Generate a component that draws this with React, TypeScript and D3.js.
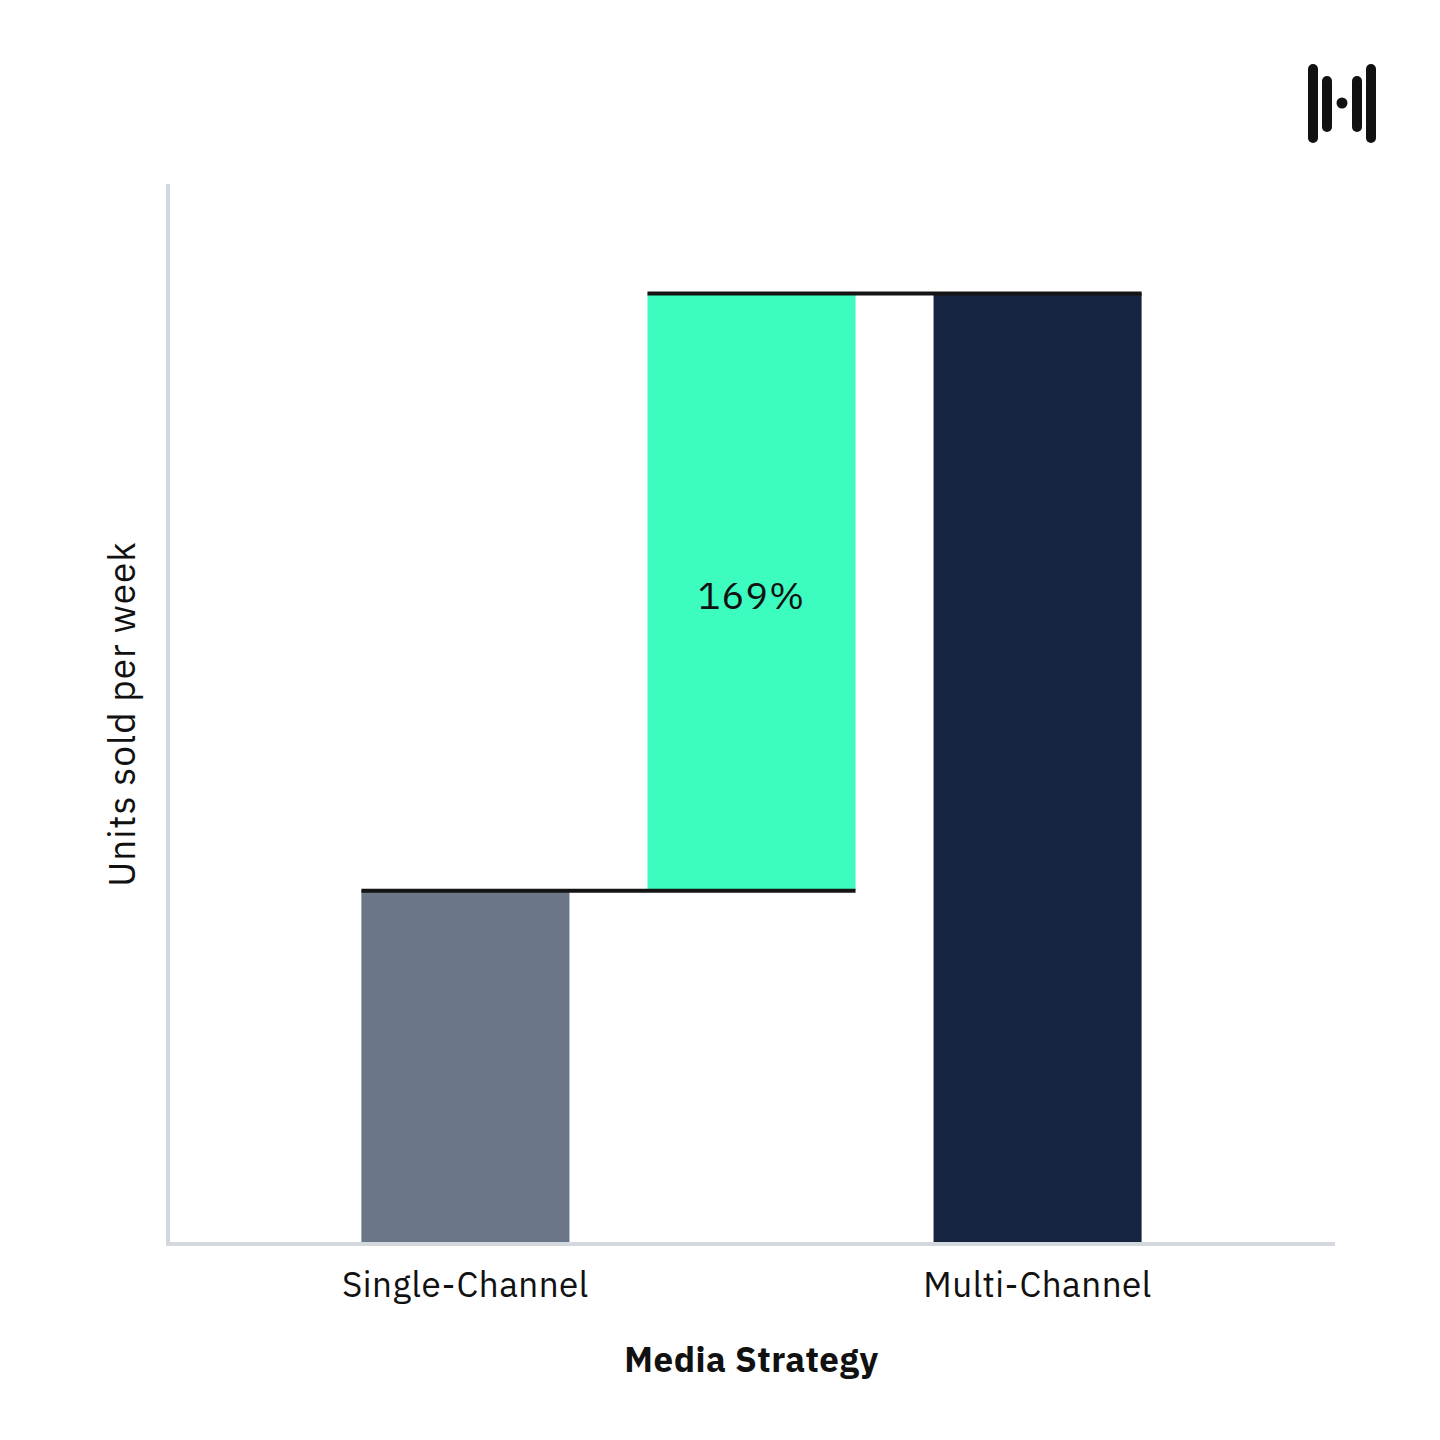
import React, { useEffect } from "react";
import * as d3 from "d3";

const categories = ["Single-Channel", "Uplift", "Multi-Channel"];
const tickLabels = ["Single-Channel", "", "Multi-Channel"];
const singleValue = [100];
const multiValue = [269];
const upliftLabel = ["169%"];
const yDomain = [0, 300];

const W = 1440;
const H = 1440;
const left = 168;
const right = 1335;
const top = 184;
const bottom = 1244;
const FONT = "'IBM Plex Sans', 'Noto Sans', sans-serif";

export default function App() {
  useEffect(() => {
    document.body.style.margin = "0";
  }, []);

  const x = d3
    .scaleBand<string>()
    .domain(categories)
    .range([left, right])
    .paddingInner(0.2727)
    .paddingOuter(0.676);
  const y = d3.scaleLinear().domain(yDomain).range([bottom, top]);
  const bw = x.bandwidth();

  const s = singleValue[0];
  const m = multiValue[0];

  const bars = [
    { cat: categories[0], y0: 0, y1: s, color: "#6b7789" },
    { cat: categories[1], y0: s, y1: m, color: "#3dfcc0" },
    { cat: categories[2], y0: 0, y1: m, color: "#172440" },
  ];

  const connectors = [
    { from: categories[0], to: categories[1], v: s },
    { from: categories[1], to: categories[2], v: m },
  ];

  return (
    <svg width={W} height={H} style={{ display: "block", background: "#fff" }}>
      {/* logo */}
      <g fill="#111">
        <rect x={1308} y={64} width={10} height={79} rx={5} />
        <rect x={1322} y={76} width={10} height={56} rx={5} />
        <circle cx={1342} cy={103} r={5.5} />
        <rect x={1352} y={76} width={10} height={56} rx={5} />
        <rect x={1366} y={64} width={10} height={79} rx={5} />
      </g>

      {/* bars */}
      {bars.map((b) => (
        <rect
          key={b.cat}
          x={x(b.cat)}
          y={y(b.y1)}
          width={bw}
          height={y(b.y0) - y(b.y1)}
          fill={b.color}
        />
      ))}

      {/* connectors */}
      {connectors.map((c, i) => (
        <line
          key={i}
          x1={x(c.from)}
          x2={(x(c.to) as number) + bw}
          y1={y(c.v)}
          y2={y(c.v)}
          stroke="#141414"
          strokeWidth={4}
        />
      ))}

      {/* uplift label */}
      <text
        x={(x(categories[1]) as number) + bw / 2}
        y={(y(s) + y(m)) / 2 + 2}
        textAnchor="middle"
        dominantBaseline="central"
        fontFamily={FONT}
        fontSize={38}
        letterSpacing={1}
        fill="#111"
      >
        {upliftLabel[0]}
      </text>

      {/* axes */}
      <line x1={168} x2={168} y1={top} y2={bottom + 2} stroke="#d3d8de" strokeWidth={4} />
      <line x1={166} x2={right} y1={bottom} y2={bottom} stroke="#d3d8de" strokeWidth={4} />

      {/* x tick labels */}
      {categories.map((c, i) =>
        tickLabels[i] ? (
          <text
            key={c}
            x={(x(c) as number) + bw / 2}
            y={1297}
            textAnchor="middle"
            fontFamily={FONT}
            fontSize={35}
            letterSpacing={0.5}
            fill="#111"
          >
            {tickLabels[i]}
          </text>
        ) : null
      )}

      {/* x title */}
      <text
        x={(left + right) / 2}
        y={1372}
        textAnchor="middle"
        fontFamily={FONT}
        fontWeight="bold"
        fontSize={35}
        letterSpacing={0.5}
        fill="#111"
      >
        Media Strategy
      </text>

      {/* y title */}
      <text
        transform={`translate(135, ${(top + bottom) / 2}) rotate(-90)`}
        textAnchor="middle"
        fontFamily={FONT}
        fontSize={37}
        letterSpacing={1}
        fill="#111"
      >
        Units sold per week
      </text>
    </svg>
  );
}
